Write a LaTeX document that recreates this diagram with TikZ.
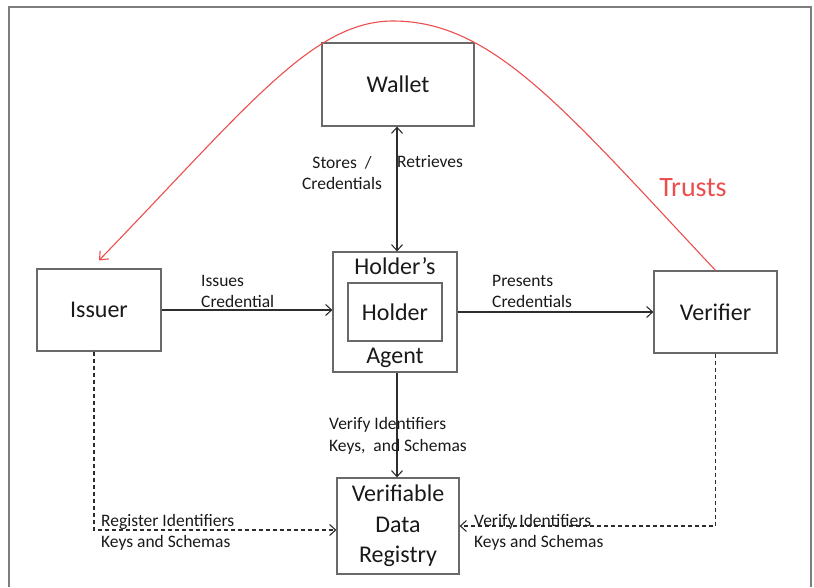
\documentclass[tikz,border=0pt]{standalone}
\usepackage{fontspec}
\setmainfont{Carlito}
\usetikzlibrary{arrows.meta,calc}
\definecolor{boxgray}{RGB}{105,105,105}
\definecolor{framegray}{RGB}{125,125,125}
\definecolor{arrowdark}{RGB}{45,45,45}
\definecolor{trustred}{RGB}{236,78,78}
\definecolor{txt}{RGB}{25,25,25}
\tikzset{
  box/.style={draw=boxgray, line width=1.2pt, rectangle, inner sep=0pt, text=txt,
              font=\fontsize{24}{30.5}\selectfont, align=center},
  lbl/.style={inner sep=0pt, text=txt, font=\fontsize{17.5}{21}\selectfont, align=left, anchor=west},
  conn/.style={draw=arrowdark, line width=1.1pt, -{Straight Barb[length=6pt,width=11pt,line width=1.1pt]}},
  bothconn/.style={draw=arrowdark, line width=1.1pt, {Straight Barb[length=6pt,width=11pt,line width=1.1pt]}-{Straight Barb[length=6pt,width=11pt,line width=1.1pt]}},
  dconn/.style={draw=arrowdark, line width=1.1pt, dash pattern=on 4pt off 3pt, -{Straight Barb[length=6pt,width=11pt,line width=1.1pt]}},
  trustline/.style={draw=trustred, line width=1.1pt, -{Straight Barb[length=7pt,width=12pt,line width=1.1pt]}}
}
\begin{document}
\begin{tikzpicture}[x=1pt,y=-1pt]
\useasboundingbox (0,0) rectangle (814,587);
% frame
\draw[framegray, line width=1.4pt] (9,587) -- (9,7) -- (811,7) -- (811,587);

% boxes
\node[box, minimum width=152pt, minimum height=83pt] (wallet) at (398,84.5) {Wallet};
\node[box, minimum width=124pt, minimum height=82pt] (issuer) at (99,310) {Issuer};
\node[box, minimum width=124pt, minimum height=120pt] (agent) at (395,312) {};
\node[box, minimum width=94pt, minimum height=58pt] (holder) at (395,312) {Holder};
\node[inner sep=0pt, text=txt, font=\fontsize{24}{29}\selectfont] (agenttop) at ($(agent.north)+(0,15)$) {Holder’s};
\node[inner sep=0pt, text=txt, font=\fontsize{24}{29}\selectfont] (agentbot) at ($(agent.south)+(0,-15)$) {Agent};
\node[box, minimum width=123pt, minimum height=82pt] (verifier) at (715.5,312) {Verifier};
\node[box, minimum width=122pt, minimum height=96pt] (vdr) at (398,526) {Verifiable\\Data\\Registry};

% connectors
\draw[bothconn] (wallet.south -| 397,0) -- (agent.north -| 397,0);
\draw[conn] (issuer.east |- 0,310) -- (agent.west |- 0,310);
\draw[conn] (agent.east |- 0,312) -- (verifier.west |- 0,312);
\draw[conn] (agent.south -| 397,0) -- (vdr.north -| 397,0);
\draw[dconn] ($(issuer.south)+(-5,0)$) |- ($(vdr.west)+(0,4)$);
\draw[dconn] (verifier.south) |- (vdr.east);

% trusts curve
\coordinate (peak) at (393,21);
\coordinate (trustend) at ($(issuer.north)+(0,-8)$);
\draw[trustline] (verifier.north) .. controls (565,110) and (493,21) .. (peak)
  .. controls (313,21) and (249,105) .. (trustend);

% labels
\node[inner sep=0pt, text=txt, font=\fontsize{17.5}{21}\selectfont, align=center] (lstores) at (342,172.5) {Stores~~/\\Credentials};
\node[lbl] (lretr) at (397,162) {Retrieves};
\node[lbl] (lissue) at (201,291.5) {Issues\\Credential};
\node[lbl] (lpres) at (492,291.5) {Presents\\Credentials};
\node[lbl, font=\fontsize{17.5}{22}\selectfont] (lverh) at (329,436) {Verify Identifiers\\Keys,~~and Schemas};
\node[lbl] (lreg) at (101,532.5) {Register Identifiers\\Keys and Schemas};
\node[lbl] (lverv) at (474,532.5) {Verify Identifiers\\Keys and Schemas};
\node[inner sep=0pt, text=trustred, font=\fontsize{28}{34}\selectfont] (ltrust) at (693,188) {Trusts};
\end{tikzpicture}
\end{document}
